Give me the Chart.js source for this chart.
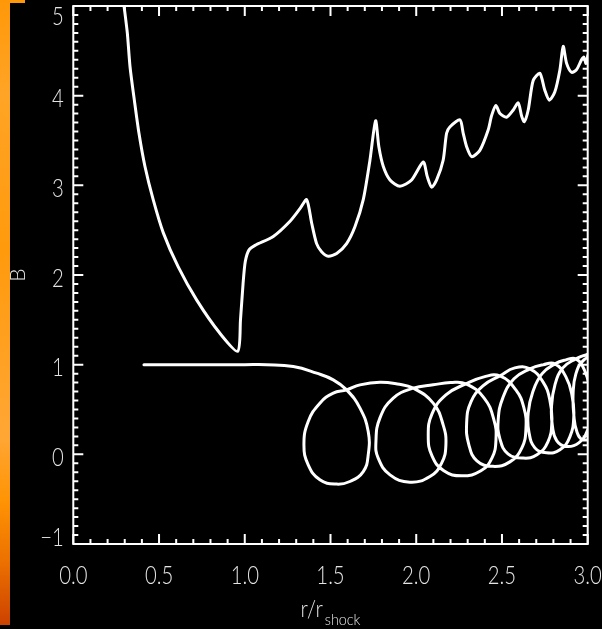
<!DOCTYPE html>
<html>
<head>
<meta charset="utf-8">
<script src="https://cdn.jsdelivr.net/npm/chart.js@4/dist/chart.umd.min.js"></script>
<style>
  html, body { margin: 0; padding: 0; background: #000; overflow: hidden; }
  canvas { display: block; }
</style>
</head>
<body>
<canvas id="c" width="602" height="629"></canvas>
<script>
// Magnetic field profile B(r / r_shock)
const fieldR = [0.296, 0.315, 0.331, 0.356, 0.383, 0.418, 0.466, 0.525, 0.612, 0.720, 0.855, 0.959,
  0.975, 0.990, 1.003, 1.025, 1.060, 1.166, 1.264, 1.322, 1.361, 1.390, 1.419, 1.448, 1.487, 1.536,
  1.594, 1.643, 1.691, 1.730, 1.763, 1.782, 1.808, 1.847, 1.905, 1.973, 2.041, 2.064, 2.090, 2.119,
  2.157, 2.177, 2.196, 2.255, 2.274, 2.294, 2.323, 2.371, 2.420, 2.440, 2.465, 2.488, 2.527, 2.566,
  2.595, 2.615, 2.630, 2.653, 2.682, 2.721, 2.750, 2.776, 2.808, 2.838, 2.857, 2.877, 2.906, 2.935,
  2.964, 2.978, 2.990, 3.001];
const fieldB = [5.00, 4.70, 4.32, 3.95, 3.58, 3.21, 2.84, 2.47, 2.09, 1.72, 1.35, 1.15,
  1.50, 1.90, 2.15, 2.28, 2.33, 2.43, 2.60, 2.74, 2.84, 2.58, 2.35, 2.26, 2.21, 2.24,
  2.35, 2.54, 2.84, 3.28, 3.72, 3.43, 3.21, 3.06, 2.99, 3.06, 3.26, 3.10, 2.98, 3.06,
  3.28, 3.58, 3.65, 3.73, 3.58, 3.43, 3.32, 3.39, 3.62, 3.78, 3.89, 3.80, 3.76, 3.84,
  3.92, 3.77, 3.71, 3.84, 4.17, 4.25, 4.06, 3.95, 4.04, 4.29, 4.55, 4.36, 4.26, 4.29,
  4.40, 4.43, 4.36, 4.45];

// Particle orbit (gyrating trajectory), in the same axes
const orbitR = [0.412, 0.700, 1.000, 1.128, 1.283, 1.419, 1.516,
  1.594, 1.672, 1.720, 1.720, 1.691, 1.613, 1.536, 1.438, 1.370, 1.345, 1.370, 1.438, 1.516,
  1.594, 1.672, 1.788, 1.890,
  1.983, 2.099, 2.157, 2.173, 2.148, 2.080, 1.963, 1.847, 1.778, 1.765, 1.788, 1.866,
  1.983, 2.099, 2.200,
  2.290, 2.395, 2.453, 2.465, 2.442, 2.377, 2.266, 2.161, 2.092, 2.070, 2.092, 2.173,
  2.290, 2.395,
  2.488, 2.581, 2.628, 2.640, 2.616, 2.546, 2.447, 2.354, 2.307, 2.294, 2.319, 2.389,
  2.488, 2.575,
  2.663, 2.739, 2.779, 2.791, 2.768, 2.704, 2.624, 2.535, 2.488, 2.478, 2.505, 2.570,
  2.663, 2.739,
  2.809, 2.873, 2.908, 2.919, 2.896, 2.838, 2.760, 2.692, 2.657, 2.653, 2.680, 2.733,
  2.809, 2.873,
  2.931, 2.983, 3.012, 3.024, 3.000, 2.948, 2.877, 2.820, 2.794, 2.789, 2.809, 2.855,
  2.931, 2.989,
  3.042, 3.089, 3.112, 3.117, 3.082, 3.030, 2.972, 2.937, 2.919, 2.915, 2.931, 2.972,
  3.042, 3.100];
const orbitY = [1.000, 1.000, 1.000, 1.000, 0.979, 0.905, 0.831,
  0.719, 0.515, 0.254, -0.006, -0.192, -0.303, -0.332, -0.284, -0.117, 0.106, 0.366, 0.571, 0.682,
  0.719, 0.775, 0.805, 0.785,
  0.738, 0.571, 0.329, 0.106, -0.098, -0.247, -0.310, -0.229, -0.042, 0.143, 0.404, 0.627,
  0.738, 0.775, 0.800,
  0.786, 0.630, 0.385, 0.162, -0.039, -0.184, -0.240, -0.184, -0.017, 0.206, 0.451, 0.663,
  0.786, 0.864,
  0.875, 0.719, 0.518, 0.295, 0.072, -0.084, -0.134, -0.072, 0.106, 0.351, 0.585, 0.764,
  0.875, 0.964,
  0.953, 0.808, 0.608, 0.363, 0.139, -0.006, -0.042, 0.006, 0.173, 0.385, 0.630, 0.842,
  0.953, 0.998,
  1.009, 0.864, 0.663, 0.429, 0.195, 0.050, 0.017, 0.072, 0.251, 0.463, 0.697, 0.897,
  1.009, 1.053,
  1.065, 0.931, 0.730, 0.496, 0.273, 0.128, 0.087, 0.150, 0.318, 0.533, 0.775, 0.964,
  1.065, 1.109,
  1.120, 0.987, 0.786, 0.563, 0.318, 0.195, 0.162, 0.251, 0.440, 0.686, 0.897, 1.042,
  1.120, 1.165];

// Axis ticks and titles
const xTickValues = [0, 0.5, 1, 1.5, 2, 2.5, 3];
const xTickLabels = ['0.0', '0.5', '1.0', '1.5', '2.0', '2.5', '3.0'];
const yTickValues = [-1, 0, 1, 2, 3, 4, 5];
const yTickLabels = ['\u22121', '0', '1', '2', '3', '4', '5'];
const xTitleMain = 'r/r';
const xTitleSub = 'shock';
const yTitle = 'B';

// thin, narrow lettering: light face drawn with a horizontal squeeze
const tickFont = "300 26px Lato, 'Liberation Sans', sans-serif";
const tickSqueeze = 0.78;
const titleFont = "300 23px Lato, 'Liberation Sans', sans-serif";
const subFont = "300 16px Lato, 'Liberation Sans', sans-serif";
const titleSqueeze = 0.9;
const textColor = '#e4e4e4';

function squeezedText(ctx, text, x, y, sx) {
  ctx.save();
  ctx.translate(x, y);
  ctx.scale(sx, 1);
  ctx.fillText(text, 0, 0);
  ctx.restore();
}

// Frame, inward ticks, labels and the coloured strip on the left edge
const boxAxes = {
  id: 'boxAxes',
  beforeDraw(chart) {
    const ctx = chart.ctx;
    ctx.save();
    ctx.fillStyle = '#000';
    ctx.fillRect(0, 0, chart.width, chart.height);
    const g = ctx.createLinearGradient(0, 0, 0, 625);
    g.addColorStop(0.00, '#ff9808');
    g.addColorStop(0.15, '#ffa426');
    g.addColorStop(0.40, '#ff9a0c');
    g.addColorStop(0.70, '#ffa634');
    g.addColorStop(0.80, '#ff9404');
    g.addColorStop(0.90, '#ec7000');
    g.addColorStop(1.00, '#cc4200');
    ctx.fillStyle = g;
    ctx.fillRect(0, 0, 10, 625);
    ctx.fillStyle = '#ff9808';
    ctx.fillRect(10, 0, 15, 3);
    ctx.restore();
  },
  afterDraw(chart) {
    const { ctx, chartArea: a, scales: { x, y } } = chart;
    ctx.save();
    ctx.strokeStyle = '#ffffff';
    ctx.lineWidth = 2;
    ctx.strokeRect(a.left, a.top, a.right - a.left, a.bottom - a.top);
    ctx.beginPath();
    for (let i = 0; i <= 30; i++) {
      const px = x.getPixelForValue(i / 10);
      const len = i % 5 === 0 ? 10 : 5;
      ctx.moveTo(px, a.bottom); ctx.lineTo(px, a.bottom - len);
      ctx.moveTo(px, a.top); ctx.lineTo(px, a.top + len);
    }
    for (let i = -10; i <= 50; i++) {
      const py = y.getPixelForValue(i / 10);
      const len = i % 10 === 0 ? 10 : 5;
      ctx.moveTo(a.left, py); ctx.lineTo(a.left + len, py);
      ctx.moveTo(a.right, py); ctx.lineTo(a.right - len, py);
    }
    ctx.stroke();

    ctx.fillStyle = textColor;
    ctx.font = tickFont;
    ctx.textBaseline = 'alphabetic';
    ctx.textAlign = 'center';
    xTickValues.forEach((v, i) => {
      squeezedText(ctx, xTickLabels[i], x.getPixelForValue(v), a.bottom + 40, tickSqueeze);
    });
    ctx.textAlign = 'right';
    yTickValues.forEach((v, i) => {
      const py = y.getPixelForValue(v);
      const base = Math.min(Math.max(py + 11.5, a.top + 19), a.bottom + 2);
      squeezedText(ctx, yTickLabels[i], a.left - 9.5, base, tickSqueeze);
    });

    // y title, rotated
    ctx.save();
    ctx.translate(18, (a.top + a.bottom) / 2);
    ctx.rotate(-Math.PI / 2);
    ctx.font = "300 21px Lato, 'Liberation Sans', sans-serif";
    ctx.textAlign = 'center';
    ctx.textBaseline = 'middle';
    ctx.fillText(yTitle, 0, 0);
    ctx.restore();

    // x title with subscript
    ctx.textAlign = 'left';
    ctx.font = titleFont;
    const wMain = ctx.measureText(xTitleMain).width * titleSqueeze;
    ctx.font = subFont;
    const wSub = ctx.measureText(xTitleSub).width * titleSqueeze;
    const x0 = (a.left + a.right) / 2 - (wMain + wSub + 2) / 2;
    ctx.font = titleFont;
    squeezedText(ctx, xTitleMain, x0, 617, titleSqueeze);
    ctx.font = subFont;
    squeezedText(ctx, xTitleSub, x0 + wMain + 2, 625, titleSqueeze);
    ctx.restore();
  }
};

const toPoints = (xs, ys) => xs.map((v, i) => ({ x: v, y: ys[i] }));

new Chart(document.getElementById('c'), {
  type: 'scatter',
  data: {
    datasets: [
      {
        data: toPoints(fieldR, fieldB),
        showLine: true,
        borderColor: '#ffffff',
        borderWidth: 3,
        pointRadius: 0,
        tension: 0.25,
        clip: 0
      },
      {
        data: toPoints(orbitR, orbitY),
        showLine: true,
        borderColor: '#ffffff',
        borderWidth: 3,
        pointRadius: 0,
        tension: 0.45,
        clip: 0
      }
    ]
  },
  options: {
    responsive: false,
    devicePixelRatio: 1,
    animation: false,
    events: [],
    layout: { padding: { left: 73.3, right: 14.3, top: 6, bottom: 85 } },
    elements: { line: { capBezierPoints: false, borderJoinStyle: 'round', borderCapStyle: 'round' } },
    plugins: { legend: { display: false }, tooltip: { enabled: false } },
    scales: {
      x: { type: 'linear', min: 0, max: 3, display: false },
      y: { type: 'linear', min: -1, max: 5, display: false }
    }
  },
  plugins: [boxAxes]
});
</script>
</body>
</html>
